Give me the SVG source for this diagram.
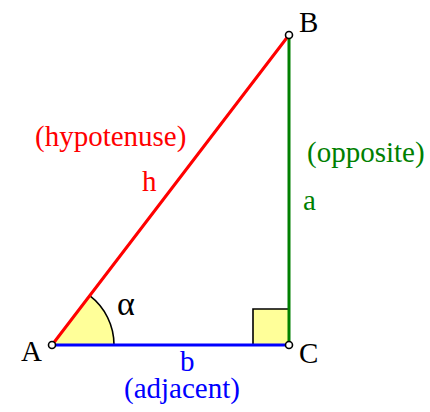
<svg xmlns="http://www.w3.org/2000/svg" width="430" height="412" viewBox="0 0 430 412">
<style>
text{font-family:"Liberation Serif","Times New Roman",serif;font-size:29px}
.v{fill:#fff;stroke:#000;stroke-width:1.6}
.fill{fill:#ffff99;stroke:none}
.edge{stroke-width:3;fill:none;stroke-linecap:round}
</style>
<rect width="430" height="412" fill="#fff"/>
<g id="marks">
<path class="fill" d="M52,345 L89.7,295.7 A62,62 0 0 1 114,345 Z"/>
<path d="M89.7,295.7 A62,62 0 0 1 114,345" fill="none" stroke="#000" stroke-width="1.6"/>
<rect class="fill" x="253" y="309" width="36" height="36"/>
<path d="M253,345 V309 H289" fill="none" stroke="#000" stroke-width="1.6"/>
</g>
<g id="connectors">
<line id="h" class="edge" x1="52" y1="345" x2="289" y2="35" stroke="#ff0000"/>
<line id="a" class="edge" x1="289" y1="35" x2="289" y2="345" stroke="#008000"/>
<line id="b" class="edge" x1="52" y1="345" x2="289" y2="345" stroke="#0000ff"/>
</g>
<g id="A"><circle class="v" cx="52" cy="345" r="3.5"/><text x="21" y="361">A</text></g>
<g id="B"><circle class="v" cx="289" cy="35" r="3.5"/><text x="299" y="32">B</text></g>
<g id="C"><circle class="v" cx="289" cy="345" r="3.5"/><text x="299" y="363">C</text></g>
<text x="117" y="315" style="font-size:34px">α</text>
<g fill="#ff0000"><text x="35" y="146">(hypotenuse)</text><text x="142" y="191">h</text></g>
<g fill="#008000"><text x="307" y="162">(opposite)</text><text x="303" y="210">a</text></g>
<g fill="#0000ff"><text x="180" y="371">b</text><text x="124" y="398">(adjacent)</text></g>
</svg>
